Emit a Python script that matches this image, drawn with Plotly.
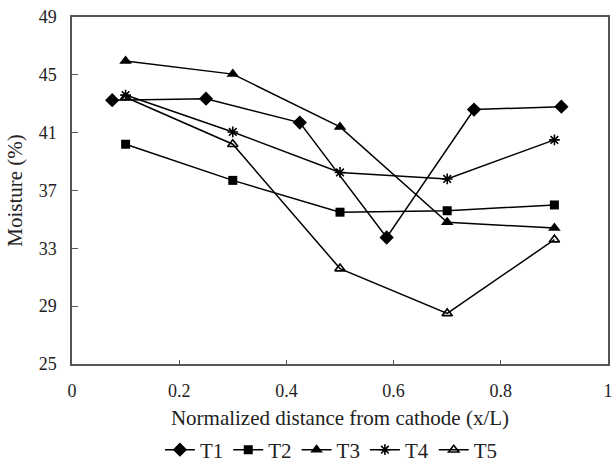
import plotly.graph_objects as go

x_t1 = [0.075, 0.25, 0.425, 0.587, 0.75, 0.913]
y_t1 = [43.25, 43.35, 41.7, 33.75, 42.6, 42.8]
x_common = [0.1, 0.3, 0.5, 0.7, 0.9]
y_t2 = [40.2, 37.7, 35.5, 35.6, 36.0]
y_t3 = [45.95, 45.05, 41.4, 34.8, 34.4]
y_t4 = [43.6, 41.05, 38.25, 37.8, 40.5]
y_t5 = [43.45, 40.2, 31.6, 28.5, 33.6]

x_ticks = [0, 0.2, 0.4, 0.6, 0.8, 1]
x_tick_text = ["0", "0.2", "0.4", "0.6", "0.8", "1"]
y_ticks = [25, 29, 33, 37, 41, 45, 49]

FONT = "'Liberation Serif', 'Times New Roman', Times, serif"
series = [
    ("T1", x_t1, y_t1, "diamond", 11, 0),
    ("T2", x_common, y_t2, "square", 9, 0),
    ("T3", x_common, y_t3, "triangle-up", 11, 0),
    ("T4", x_common, y_t4, "asterisk-open", 9, 1.6),
    ("T5", x_common, y_t5, "triangle-up-open", 9, 1.6),
]

fig = go.Figure()
for name, xs, ys, sym, size, lw in series:
    fig.add_trace(go.Scatter(
        x=xs, y=ys, name=name, mode="lines+markers",
        line=dict(color="black", width=1.5),
        marker=dict(symbol=sym, size=size, color="black",
                    line=dict(color="black", width=lw)),
    ))

axis_common = dict(
    showline=True, linecolor="#555", linewidth=1.5, mirror=True,
    showgrid=False, zeroline=False, ticks="inside", automargin=False,
    ticklabeloverflow="allow",
    tickcolor="#555", tickfont=dict(family=FONT, size=18, color="#222"),
)
fig.update_xaxes(range=[0, 1], tickvals=x_ticks, ticktext=x_tick_text, ticklen=4,
                 ticklabelstandoff=10,
                 title=dict(text="Normalized distance from cathode (x/L)",
                            font=dict(family=FONT, size=21, color="#222"), standoff=10),
                 **axis_common)
fig.update_yaxes(range=[25, 49], tickvals=y_ticks, ticklen=6,
                 ticklabelstandoff=10,
                 title=dict(text="Moisture (%)",
                            font=dict(family=FONT, size=21, color="#222"), standoff=10),
                 **axis_common)
fig.update_layout(
    width=615, height=463,
    margin=dict(l=72, r=7, t=17, b=99, autoexpand=False),
    plot_bgcolor="white", paper_bgcolor="white",
    font=dict(family=FONT, color="#222"),
    legend=dict(orientation="h", x=0.484, xanchor="center",
                yref="container", y=0.028, yanchor="middle",
                font=dict(family=FONT, size=21, color="#222"), itemwidth=30,
                tracegroupgap=0),
    showlegend=True,
)
fig.write_html("out.html")
